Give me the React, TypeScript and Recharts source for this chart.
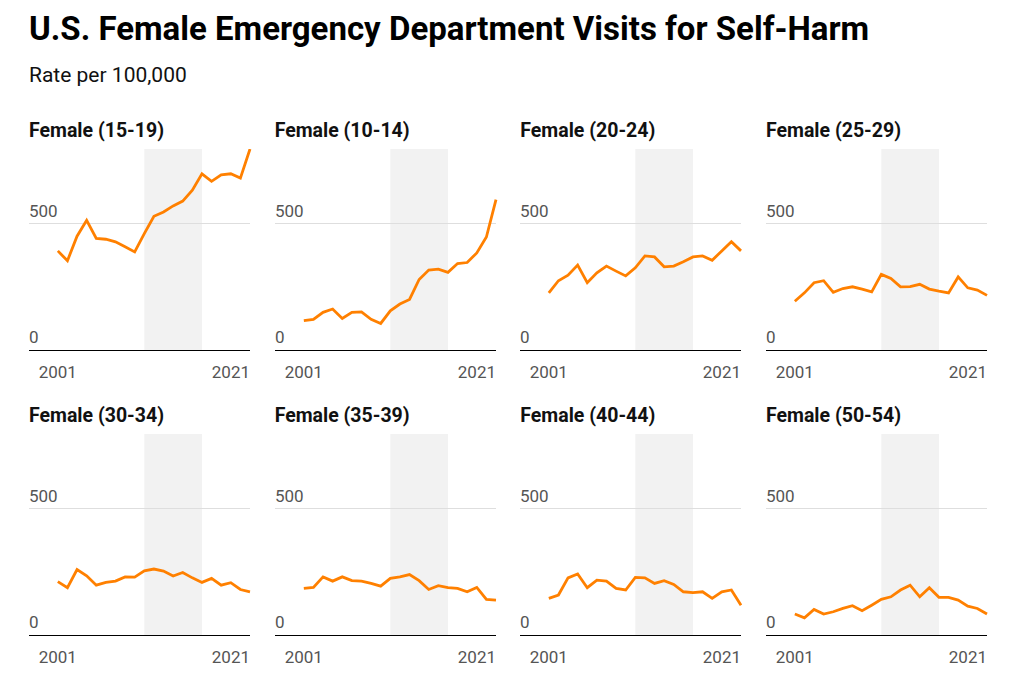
import {
  Label,
  Line,
  LineChart,
  ReferenceArea,
  ReferenceLine,
  XAxis,
  YAxis,
} from 'recharts';

const years = [
  2001, 2002, 2003, 2004, 2005, 2006, 2007, 2008, 2009, 2010, 2011,
  2012, 2013, 2014, 2015, 2016, 2017, 2018, 2019, 2020, 2021,
];

const female15to19 = [392, 353, 450, 513, 441, 438, 428, 408, 388, 460, 529, 546, 570, 589, 632, 697, 667, 693, 697, 680, 795];
const female10to14 = [116, 121, 149, 162, 125, 149, 151, 121, 105, 155, 182, 200, 279, 316, 320, 307, 342, 346, 384, 447, 595];
const female20to24 = [226, 274, 296, 336, 266, 305, 332, 312, 293, 325, 372, 368, 329, 332, 349, 368, 372, 355, 392, 428, 392];
const female25to29 = [193, 226, 266, 274, 228, 243, 250, 241, 230, 299, 283, 250, 251, 260, 241, 233, 226, 289, 246, 237, 216];
const female30to34 = [211, 187, 259, 234, 197, 208, 213, 230, 229, 254, 261, 253, 233, 247, 226, 208, 224, 197, 207, 180, 171];
const female35to39 = [184, 188, 230, 213, 230, 215, 213, 204, 193, 224, 230, 239, 215, 180, 195, 187, 184, 171, 188, 141, 138];
const female40to44 = [145, 158, 226, 241, 187, 217, 213, 184, 178, 228, 226, 204, 215, 200, 171, 168, 171, 145, 171, 178, 118];
const female50to54 = [83, 68, 101, 83, 92, 105, 116, 96, 118, 141, 151, 178, 197, 151, 187, 149, 149, 138, 114, 105, 83];

const panelTitles = [
  'Female (15-19)', 'Female (10-14)', 'Female (20-24)', 'Female (25-29)',
  'Female (30-34)', 'Female (35-39)', 'Female (40-44)', 'Female (50-54)',
];
const panelSeries = [
  female15to19, female10to14, female20to24, female25to29,
  female30to34, female35to39, female40to44, female50to54,
];

const xTicks = [2001, 2021];
const yTicks = [0, 500];
const shadeStart = 2010;
const shadeEnd = 2016;

const FONT = 'Roboto, "Noto Sans", sans-serif';
const ORANGE = '#ff8000';

const PLOT_W = 221;
const PLOT_H = 201;
const PAD_TOP = 10;
const AXIS_H = 40;

function XTick({ x, payload }: any) {
  const last = payload.value === xTicks[xTicks.length - 1];
  return (
    <text
      x={x}
      y={PAD_TOP + PLOT_H + 28}
      textAnchor={last ? 'end' : 'middle'}
      fill="#555"
      fontSize={17}
      fontFamily={FONT}
    >
      {payload.value}
    </text>
  );
}

// y tick labels sit above their line, flush with the plot's left edge
function YTickLabel({ viewBox, value }: any) {
  return (
    <text x={viewBox.x} y={viewBox.y - 7} textAnchor="start" fill="#555" fontSize={17} fontFamily={FONT}>
      {value}
    </text>
  );
}

function Panel({ title, values, left, top }: { title: string; values: number[]; left: number; top: number }) {
  const data = years.map((year, i) => ({ year, value: values[i] }));
  return (
    <>
      <div
        style={{
          position: 'absolute',
          left,
          top: top - 28.4,
          fontSize: 19.5,
          lineHeight: '19.5px',
          fontWeight: 700,
          color: '#111',
          whiteSpace: 'nowrap',
        }}
      >
        {title}
      </div>
      <div style={{ position: 'absolute', left, top: top - PAD_TOP }}>
        <LineChart
          width={PLOT_W + 4}
          height={PAD_TOP + PLOT_H + AXIS_H}
          data={data}
          margin={{ top: PAD_TOP, right: 4, bottom: 0, left: 0 }}
        >
          <XAxis
            dataKey="year"
            type="number"
            domain={[1998, 2021]}
            ticks={xTicks}
            interval={0}
            height={AXIS_H}
            tickLine={false}
            axisLine={{ stroke: '#000', strokeWidth: 1, shapeRendering: 'crispEdges' }}
            tick={<XTick />}
          />
          <YAxis domain={[0, 795]} allowDataOverflow hide />
          <ReferenceArea x1={shadeStart} x2={shadeEnd} fill="#f2f2f2" fillOpacity={1} stroke="none" />
          {yTicks.map((t) => (
            <ReferenceLine
              key={t}
              y={t}
              stroke={t === 0 ? 'none' : '#dedede'}
              strokeWidth={1}
              shapeRendering="crispEdges"
            >
              <Label content={<YTickLabel value={t} />} />
            </ReferenceLine>
          ))}
          <Line
            type="linear"
            dataKey="value"
            stroke={ORANGE}
            strokeWidth={2.8}
            dot={false}
            activeDot={false}
            isAnimationActive={false}
          />
        </LineChart>
      </div>
    </>
  );
}

export default function App() {
  return (
    <div
      style={{
        position: 'absolute',
        left: 0,
        top: 0,
        width: 1024,
        height: 688,
        background: '#fff',
        fontFamily: FONT,
        overflow: 'hidden',
      }}
    >
      <div
        style={{
          position: 'absolute',
          left: 29,
          top: 12,
          fontSize: 33,
          lineHeight: '33px',
          fontWeight: 700,
          color: '#000',
          whiteSpace: 'nowrap',
        }}
      >
        U.S. Female Emergency Department Visits for Self-Harm
      </div>
      <div
        style={{
          position: 'absolute',
          left: 29,
          top: 65,
          fontSize: 21,
          lineHeight: '21px',
          color: '#111',
          whiteSpace: 'nowrap',
        }}
      >
        Rate per 100,000
      </div>
      {panelTitles.map((title, i) => (
        <Panel
          key={title}
          title={title}
          values={panelSeries[i]}
          left={29 + (i % 4) * 245.67}
          top={i < 4 ? 149 : 434}
        />
      ))}
    </div>
  );
}
